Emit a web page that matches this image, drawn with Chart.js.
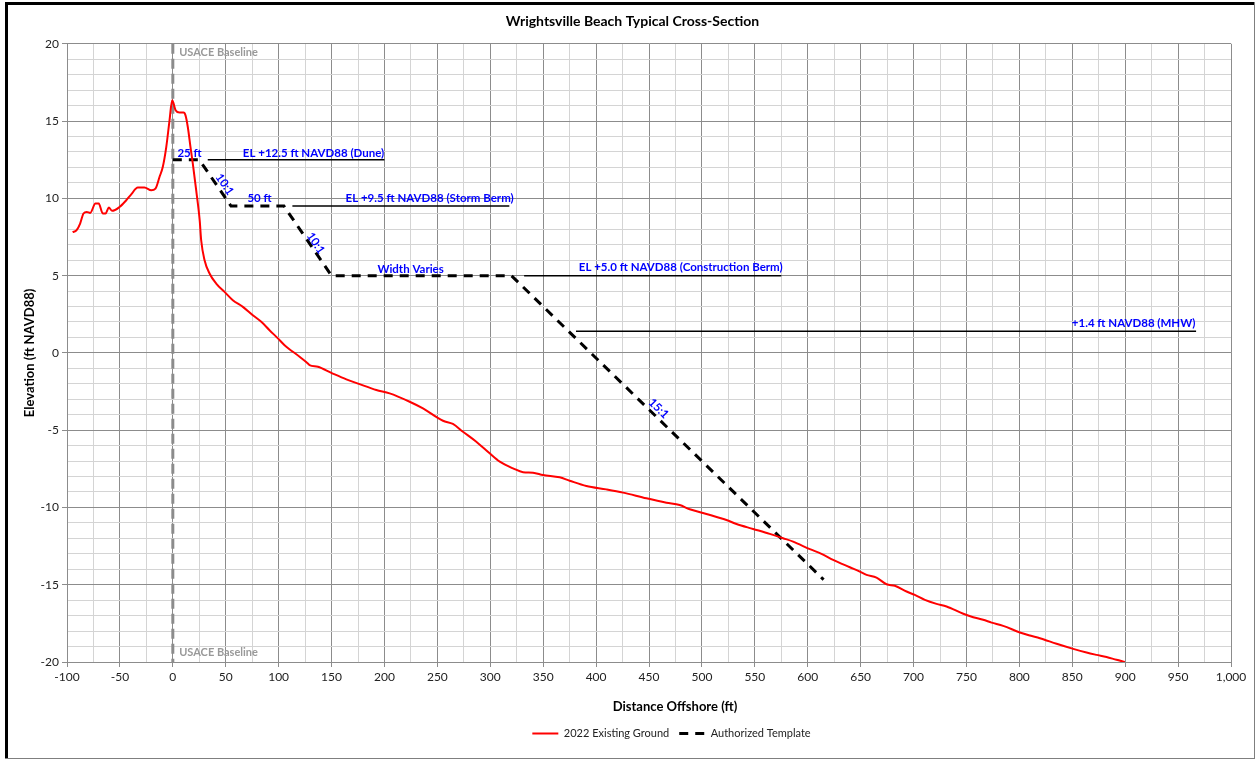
<!DOCTYPE html>
<html>
<head>
<meta charset="utf-8">
<script src="https://cdn.jsdelivr.net/npm/chart.js@4/dist/chart.umd.min.js"></script>
<style>
  html, body { margin: 0; padding: 0; background: #fff; }
  #wrap { width: 1257px; height: 759px; position: relative; }
</style>
</head>
<body>
<div id="wrap"><canvas id="xsec"></canvas></div>
<script>
// ---- data ----
const groundDist = [-94.7, -90.9, -87.6, -84.4, -81.3, -78.1, -73.1, -70, -66.2, -63.6, -60.5, -57.3, -50.4, -44, -39.3,
  -33.1, -26.8, -20.4, -16.4, -12.6, -9.5, -6.2, -3.1, -0.6, 2.6, 6.3, 10.1, 12, 14.2, 16.7, 18.9, 22.1, 25.4, 26.8,
  30, 34.7, 41, 48.9, 56.7, 66.2, 75.6, 83.6, 91.4, 99.3, 105.6, 119.8, 127.6, 129.2, 137.1, 149.8, 164, 176.5, 192.3,
  204.9, 223.8, 236.4, 255.3, 264.7, 274.2, 286.8, 299.4, 309, 321.5, 331, 340.4, 349.8, 365.6, 375, 390.8, 409.7,
  425.5, 447.6, 466.5, 479, 488.5, 504.3, 523.2, 532.7, 548.4, 564.1, 576.7, 586.2, 602, 613, 624, 639.8, 649.2,
  655.6, 665, 674.5, 682.3, 693.4, 701.2, 710.7, 721.7, 731.2, 747, 756.4, 765.8, 773.8, 784.7, 800.5, 810, 819.4,
  835.2, 850.9, 863.5, 872.9, 882.4, 891.8, 899.7];
const groundElev = [7.81, 7.94, 8.37, 9.02, 9.12, 9.06, 9.66, 9.66, 9.02, 9.02, 9.4, 9.19, 9.44, 9.88, 10.26,
  10.7, 10.7, 10.52, 10.63, 11.38, 12.03, 13.32, 15.05, 16.34, 15.7, 15.55, 15.55, 15.37, 14.6, 13.32, 12.25, 10.52, 8.58, 7.29,
  6.0, 5.14, 4.49, 3.95, 3.41, 2.98, 2.44, 2.01, 1.47, 0.94, 0.5, -0.25, -0.68, -0.79, -0.9, -1.29, -1.71, -2.02, -2.4,
  -2.62, -3.16, -3.59, -4.39, -4.6, -5.1, -5.75, -6.5, -7.04, -7.47, -7.72, -7.75, -7.9, -8.05, -8.27, -8.61, -8.83,
  -9.04, -9.41, -9.69, -9.84, -10.12, -10.42, -10.81, -11.07, -11.39, -11.71, -11.99, -12.21, -12.7, -13.0, -13.39, -13.87, -14.15,
  -14.36, -14.54, -14.97, -15.07, -15.44, -15.66, -15.98, -16.24, -16.41, -16.88, -17.1, -17.27, -17.45, -17.66, -18.09, -18.29, -18.46,
  -18.82, -19.15, -19.39, -19.54, -19.68, -19.86, -20.0];

const templateDist = [0, 25, 55, 105, 150, 320, 615];
const templateElev = [12.5, 12.5, 9.5, 9.5, 5, 5, -14.67];

// reference elevation lines: [start, end] distance and elevation
const duneLine   = { dist: [33, 200],  elev: 12.5 };
const stormLine  = { dist: [113, 318], elev: 9.5 };
const constLine  = { dist: [332, 575], elev: 5.0 };
const mhwLine    = { dist: [381, 967], elev: 1.4 };
const baselineDist = [0, 0];
const baselineElev = [20, -20];

const xTicks = { min: -100, max: 1000, step: 25, labelEvery: 50 };
const yTicks = { min: -20, max: 20, step: 1, labelEvery: 5 };

// annotation text: [text, dist, elev, rotationDeg]
const notes = [
  ['25 ft', 15.8, 12.9, 0],
  ['EL +12.5 ft NAVD88 (Dune)', 133, 12.9, 0],
  ['10:1', 49, 10.9, 55.6],
  ['50 ft', 82, 10.0, 0],
  ['EL +9.5 ft NAVD88 (Storm Berm)', 242.7, 10.0, 0],
  ['10:1', 135, 7.1, 55.6],
  ['Width Varies', 224.7, 5.4, 0],
  ['EL +5.0 ft NAVD88 (Construction Berm)', 480, 5.55, 0],
  ['15:1', 459, -3.6, 44.3],
  ['+1.4 ft NAVD88 (MHW)', 908, 1.93, 0]
];
const baselineNotes = [['USACE Baseline', 6, 19.45], ['USACE Baseline', 6, -19.4]];
const xTitle = 'Distance Offshore (ft)';

const FONT = 'Lato, "Open Sans", sans-serif';

function pts(xs, ys) { return xs.map((x, i) => ({ x, y: ys[i] })); }
function level(l) { return l.dist.map(x => ({ x, y: l.elev })); }

function levelSet(l) {
  return { label: '', data: level(l), borderColor: '#000', borderWidth: 1.5, pointRadius: 0 };
}

// frame, free text and small layout nudges
const decor = {
  id: 'decor',
  afterLayout(chart) {
    // Excel centres the legend / title a bit right of the canvas middle
    chart.legend.left += 52; chart.legend.right += 52;
    chart.titleBlock.left += 13; chart.titleBlock.right += 13;
  },
  beforeDraw(chart) {
    const c = chart.ctx;
    c.save();
    c.fillStyle = '#fff';
    c.fillRect(0, 0, chart.width, chart.height);
    c.restore();
  },
  afterDatasetsDraw(chart) {
    const c = chart.ctx, xs = chart.scales.x, ys = chart.scales.y;
    c.save();
    c.textBaseline = 'middle';
    c.font = 'bold 11.5px ' + FONT;
    notes.forEach(([t, dx, dy, rot]) => {
      c.save();
      c.translate(xs.getPixelForValue(dx), ys.getPixelForValue(dy));
      c.rotate(rot * Math.PI / 180);
      c.fillStyle = '#0000ff';
      c.textAlign = 'center';
      c.fillText(t, 0, 0);
      c.restore();
    });
    c.font = 'bold 11px ' + FONT;
    c.fillStyle = '#999';
    c.textAlign = 'left';
    baselineNotes.forEach(([t, dx, dy]) => c.fillText(t, xs.getPixelForValue(dx), ys.getPixelForValue(dy)));
    // x-axis title
    c.fillStyle = '#000';
    c.textAlign = 'center';
    c.font = 'bold 13px ' + FONT;
    c.fillText(xTitle, 675, 707);
    c.restore();
  },
  afterDraw(chart) {
    const c = chart.ctx;
    c.save();
    c.fillStyle = '#000';
    c.fillRect(5, 2, 3, 757);
    c.fillRect(5, 2, 1250, 3);
    c.fillStyle = '#7f7f7f';
    c.fillRect(1254, 2, 1, 757);
    c.fillRect(5, 758, 1250, 1);
    c.restore();
  }
};

new Chart(document.getElementById('xsec'), {
  type: 'line',
  data: {
    datasets: [
      { label: '2022 Existing Ground', data: pts(groundDist, groundElev), borderColor: '#ff0000', backgroundColor: '#ff0000',
        borderWidth: 2, pointRadius: 0, cubicInterpolationMode: 'monotone' },
      { label: 'Authorized Template', data: pts(templateDist, templateElev), borderColor: '#000', backgroundColor: '#000',
        borderWidth: 3, borderDash: [9, 7], pointRadius: 0 },
      levelSet(duneLine), levelSet(stormLine), levelSet(constLine), levelSet(mhwLine),
      { label: '', data: pts(baselineDist, baselineElev), borderColor: '#8c8c8c', borderWidth: 3, borderDash: [10, 5],
        pointRadius: 0 }
    ]
  },
  options: {
    responsive: true, maintainAspectRatio: false, animation: false,
    layout: { padding: { top: 5, left: 8, right: 26, bottom: 10 } },
    plugins: {
      title: {
        display: true, text: 'Wrightsville Beach Typical Cross-Section', color: '#000',
        font: { family: FONT, size: 14, weight: 'bold' }, padding: { top: 8, bottom: 14 }
      },
      legend: {
        position: 'bottom',
        labels: {
          color: '#222', font: { family: FONT, size: 11 },
          usePointStyle: true, pointStyle: 'line', pointStyleWidth: 26, boxWidth: 26, boxHeight: 3,
          generateLabels: chart => Chart.defaults.plugins.legend.labels.generateLabels(chart).map(item => {
            const ds = chart.data.datasets[item.datasetIndex];
            item.lineDash = ds.borderDash || [];
            item.lineWidth = ds.borderWidth;
            return item;
          }),
          filter: item => item.text !== ''
        }
      },
      tooltip: { enabled: false }
    },
    scales: {
      x: {
        type: 'linear', min: xTicks.min, max: xTicks.max,
        afterFit: s => { s.height = 56; },
        ticks: {
          stepSize: xTicks.step, color: '#222', font: { family: FONT, size: 12 }, maxRotation: 0, autoSkip: false,
          callback: v => (v % xTicks.labelEvery === 0 ? v.toLocaleString('en-US') : '')
        },
        grid: {
          color: ctx => (ctx.tick && ctx.tick.value % xTicks.labelEvery === 0 ? '#8c8c8c' : '#d4d4d4'),
          tickColor: ctx => (ctx.tick && ctx.tick.value % xTicks.labelEvery === 0 ? '#8c8c8c' : 'rgba(0,0,0,0)'),
          tickLength: 5
        },
        border: { color: '#8c8c8c' }
      },
      y: {
        type: 'linear', min: yTicks.min, max: yTicks.max,
        afterFit: s => { s.width = 59; },
        ticks: {
          stepSize: yTicks.step, color: '#222', font: { family: FONT, size: 12 }, autoSkip: false,
          callback: v => (v % yTicks.labelEvery === 0 ? v : '')
        },
        grid: {
          color: ctx => (ctx.tick && ctx.tick.value % yTicks.labelEvery === 0 ? '#8c8c8c' : '#d4d4d4'),
          tickColor: ctx => (ctx.tick && ctx.tick.value % yTicks.labelEvery === 0 ? '#8c8c8c' : 'rgba(0,0,0,0)'),
          tickLength: 5
        },
        border: { color: '#8c8c8c' },
        title: { display: true, text: 'Elevation (ft NAVD88)', color: '#000', font: { family: FONT, size: 13, weight: 'bold' },
          padding: { top: 14, bottom: 0 } }
      }
    }
  },
  plugins: [decor]
});
</script>
</body>
</html>
